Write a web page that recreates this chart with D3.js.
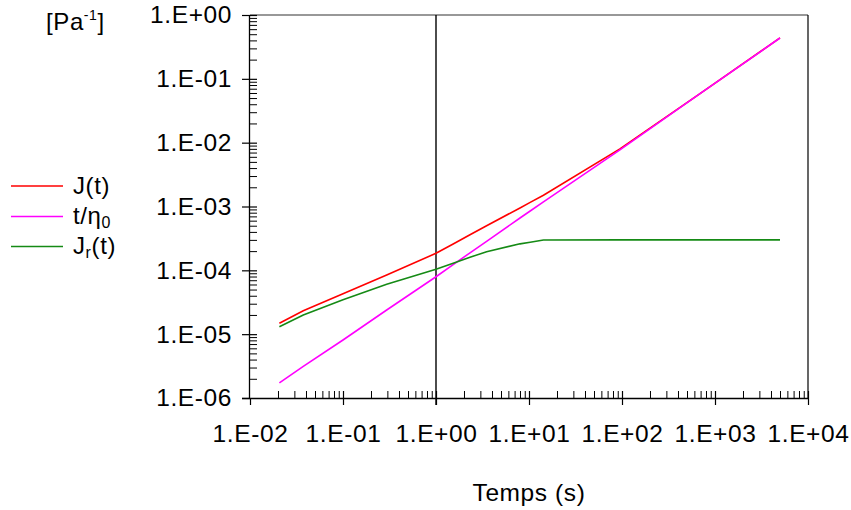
<!DOCTYPE html>
<html>
<head>
<meta charset="utf-8">
<script src="https://cdn.jsdelivr.net/npm/d3@7"></script>
<style>
  html, body { margin: 0; padding: 0; background: #fff; }
  svg { display: block; font-family: "Liberation Sans", Arial, sans-serif; }
</style>
</head>
<body>
<svg id="chart" width="851" height="510"></svg>
<script>
// ---- data ----
const times   = [0.0207, 0.0374, 0.1, 0.295, 1, 1.53, 2.32, 3.5, 8, 10.3, 14.3, 95, 690, 5000];
const Jt      = [1.48e-5, 2.33e-5, 4.3e-5, 8.45e-5, 1.85e-4, 2.58e-4, 3.6e-4, 5.0e-4, 9.5e-4, 1.16e-3, 1.5e-3, 8.0e-3, 0.0588, 0.437];
const tEta    = [1.73e-6, 3.13e-6, 8.1e-6, 2.39e-5, 7.94e-5, 1.23e-4, 1.88e-4, 2.85e-4, 6.6e-4, 8.5e-4, 1.18e-3, 7.7e-3, 0.0585, 0.436];
const Jrt     = [1.31e-5, 2.0e-5, 3.45e-5, 6.04e-5, 1.04e-4, 1.29e-4, 1.6e-4, 1.96e-4, 2.6e-4, 2.75e-4, 2.99e-4, 3.0e-4, 3.0e-4, 3.0e-4];
const seriesNames  = ["J(t)", "t/η0", "Jr(t)"];
const seriesColors = ["#ff0000", "#ff00ff", "#158a15"];
const xTickValues = [1e-2, 1e-1, 1e0, 1e1, 1e2, 1e3, 1e4];
const xTickLabels = ["1.E-02", "1.E-01", "1.E+00", "1.E+01", "1.E+02", "1.E+03", "1.E+04"];
const yTickValues = [1e-6, 1e-5, 1e-4, 1e-3, 1e-2, 1e-1, 1e0];
const yTickLabels = ["1.E-06", "1.E-05", "1.E-04", "1.E-03", "1.E-02", "1.E-01", "1.E+00"];
const xTitle = "Temps (s)";
const markerTime = 1;

// ---- layout ----
const svg = d3.select("#chart");
const L = 250, R = 808, T = 15, B = 398;
const x = d3.scaleLog().domain([1e-2, 1e4]).range([L, R]);
const y = d3.scaleLog().domain([1e-6, 1e0]).range([B, T]);
const FS = 24.5;
const LS = "0.6px";

// minor ticks
const minorX = [], minorY = [];
for (let e = -2; e < 4; e++) for (let k = 2; k <= 9; k++) minorX.push(k * Math.pow(10, e));
for (let e = -6; e < 0; e++) for (let k = 2; k <= 9; k++) minorY.push(k * Math.pow(10, e));

const g = svg.append("g");

// frame: top and right borders
g.append("line").attr("x1", L).attr("x2", R).attr("y1", T).attr("y2", T).attr("stroke", "#333").attr("stroke-width", 1.2);
g.append("line").attr("x1", R).attr("x2", R).attr("y1", T).attr("y2", B).attr("stroke", "#000").attr("stroke-width", 1.2);

// X axis
const xAxis = d3.axisBottom(x).tickValues(xTickValues)
  .tickFormat((d, i) => xTickLabels[i]).tickSizeInner(7).tickSizeOuter(0).tickPadding(20);
const gx = g.append("g").attr("transform", `translate(0,${B})`).call(xAxis);
gx.select(".domain").attr("d", `M${L - 8},0.5H${R}`).attr("stroke", "#000").attr("stroke-width", 1.3);
gx.selectAll(".tick line").attr("y1", -7).attr("stroke", "#000").attr("stroke-width", 1.2);
gx.selectAll(".tick text").attr("font-size", FS).attr("letter-spacing", LS).attr("fill", "#000")
  .attr("font-family", "Liberation Sans, Arial, sans-serif");
gx.selectAll(".tick").filter(d => d === 1e-2).select("line").attr("y1", 0);
const gxMinor = d3.axisBottom(x).tickValues(minorX).tickFormat("").tickSizeInner(-7).tickSizeOuter(0);
const gxm = g.append("g").attr("transform", `translate(0,${B})`).call(gxMinor);
gxm.select(".domain").remove();
gxm.selectAll(".tick line").attr("stroke", "#000").attr("stroke-width", 1);

// Y axis
const yAxis = d3.axisLeft(y).tickValues(yTickValues)
  .tickFormat((d, i) => yTickLabels[i]).tickSizeInner(8).tickSizeOuter(0).tickPadding(10);
const gy = g.append("g").attr("transform", `translate(${L},0)`).call(yAxis);
gy.select(".domain").attr("d", `M-0.5,${T}V${B}`).attr("stroke", "#000").attr("stroke-width", 1.3);
gy.selectAll(".tick line").attr("x2", -8).attr("x1", 7).attr("stroke", "#000").attr("stroke-width", 1.2);
gy.selectAll(".tick").filter(d => d === 1e-6).select("line").attr("x1", 0);
gy.selectAll(".tick text").attr("font-size", FS).attr("letter-spacing", LS).attr("fill", "#000")
  .attr("font-family", "Liberation Sans, Arial, sans-serif");
const gyMinor = d3.axisLeft(y).tickValues(minorY).tickFormat("").tickSizeInner(-7).tickSizeOuter(0);
const gym = g.append("g").attr("transform", `translate(${L},0)`).call(gyMinor);
gym.select(".domain").remove();
gym.selectAll(".tick line").attr("stroke", "#000").attr("stroke-width", 1);

// vertical marker at t = 1
g.append("line").attr("x1", x(markerTime)).attr("x2", x(markerTime))
  .attr("y1", T).attr("y2", B + 7).attr("stroke", "#000").attr("stroke-width", 1.4);

// series
const series = [Jt, tEta, Jrt];
const line = d3.line().x(d => x(d[0])).y(d => y(d[1]));
series.forEach((vals, si) => {
  const pts = times.map((t, i) => [t, vals[i]]);
  g.append("path").datum(pts).attr("d", line)
    .attr("fill", "none").attr("stroke", seriesColors[si]).attr("stroke-width", 1.6);
});

// legend
const legY = [186, 216.5, 246.5];
const lg = svg.append("g").attr("letter-spacing", LS);
seriesNames.forEach((name, i) => {
  lg.append("line").attr("x1", 11).attr("x2", 63).attr("y1", legY[i]).attr("y2", legY[i])
    .attr("stroke", seriesColors[i]).attr("stroke-width", 1.6);
});
lg.append("text").attr("x", 73).attr("y", legY[0] + 7.5).attr("font-size", 24).text("J(t)");
const lt1 = lg.append("text").attr("x", 73).attr("y", legY[1] + 7.5).attr("font-size", 24);
lt1.append("tspan").text("t/η");
lt1.append("tspan").attr("font-size", 16).attr("dy", 4).text("0");
const lt2 = lg.append("text").attr("x", 73).attr("y", legY[2] + 7.5).attr("font-size", 24);
lt2.append("tspan").text("J");
lt2.append("tspan").attr("font-size", 16).attr("dy", 4).text("r");
lt2.append("tspan").attr("dy", -4).text("(t)");

// y unit label
const yl = svg.append("text").attr("x", 46).attr("y", 29.5).attr("font-size", 24).attr("letter-spacing", LS);
yl.append("tspan").text("[Pa");
yl.append("tspan").attr("font-size", 14).attr("dy", -10).text("-1");
yl.append("tspan").attr("dy", 10).text("]");

// x title
svg.append("text").attr("x", (L + R) / 2).attr("y", 500.5).attr("text-anchor", "middle")
  .attr("font-size", FS).attr("letter-spacing", LS).text(xTitle);
</script>
</body>
</html>
